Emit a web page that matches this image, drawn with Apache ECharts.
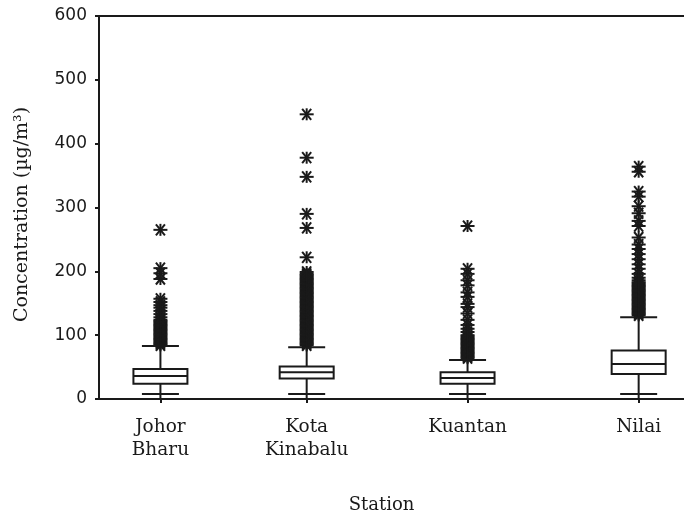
<!DOCTYPE html>
<html>
<head>
<meta charset="utf-8">
<title>Concentration by station</title>
<script src="https://cdn.jsdelivr.net/npm/echarts@6/dist/echarts.min.js"></script>
<style>
  html, body { margin: 0; padding: 0; background: #fff; }
  #chart { width: 684px; height: 519px; }
</style>
</head>
<body>
<div id="chart"></div>
<script>
// Stations and where each one sits along the x axis
const stations = ['Johor\nBharu', 'Kota\nKinabalu', 'Kuantan', 'Nilai'];
const stationPos = [0.42, 1.42, 2.52, 3.69];

// Box statistics (µg/m³)
const lowerWhisker = [8, 8, 8, 8];
const quartile1    = [24, 32, 24, 39];
const median       = [36, 42, 33, 55];
const quartile3    = [47, 51, 42, 76];
const upperWhisker = [83, 81, 61, 128];

// Outlying observations per station
const outJohor = [84, 86, 88, 90, 92, 94, 96, 98, 100, 102, 104, 106, 108, 110, 112, 114,
  116, 118, 120, 122, 124, 128, 133, 138, 143, 147, 152, 157, 188, 197, 205, 265];
const outKota = [84, 86, 88, 90, 92, 94, 96, 98, 100, 102, 104, 106, 108, 110, 112, 114,
  116, 118, 120, 122, 124, 126, 128, 130, 132, 134, 136, 138, 140, 142, 144, 146, 148,
  150, 152, 154, 156, 158, 160, 162, 164, 166, 168, 170, 172, 174, 176, 178, 180, 182,
  184, 186, 188, 190, 192, 194, 196, 199, 222, 268, 290, 348, 378, 446];
const outKuantan = [64, 66, 68, 70, 72, 74, 76, 78, 80, 82, 84, 86, 88, 90, 92, 94, 96,
  98, 100, 105, 110, 116, 124, 134, 144, 149, 160, 167, 178, 186, 196, 204, 271];
const outNilai = [131, 133, 135, 137, 139, 141, 143, 145, 147, 149, 151, 153, 155, 157,
  159, 161, 163, 165, 167, 169, 171, 173, 175, 177, 179, 181, 183, 186, 190, 196, 204,
  211, 219, 227, 235, 242, 253, 271, 279, 291, 302, 317, 325, 356, 364];
const outliers = [outJohor, outKota, outKuantan, outNilai];

// Axis ticks
const yTicks = { min: 0, max: 600, interval: 100 };

const INK = '#1a1a1a';
const BOX_W = 54;
const CAP_W = 37;
const SERIF = '"DejaVu Serif", serif';

const boxData = stations.map((s, i) => [stationPos[i], lowerWhisker[i], quartile1[i],
  median[i], quartile3[i], upperWhisker[i]]);
const outlierData = [];
outliers.forEach((vals, i) => vals.forEach(v => outlierData.push([stationPos[i], v])));

function renderBox(params, api) {
  const x = api.value(0);
  const pt = k => api.coord([x, api.value(k)]);
  const lo = pt(1), q1 = pt(2), md = pt(3), q3 = pt(4), hi = pt(5);
  const base = api.coord([x, yTicks.min]);
  const cx = lo[0];
  const hw = BOX_W / 2, cw = CAP_W / 2;
  const st = { stroke: INK, lineWidth: 2, fill: null };
  return {
    type: 'group',
    children: [
      { type: 'line', shape: { x1: cx, y1: q3[1], x2: cx, y2: hi[1] }, style: st },
      { type: 'line', shape: { x1: cx - cw, y1: hi[1], x2: cx + cw, y2: hi[1] }, style: st },
      { type: 'line', shape: { x1: cx, y1: q1[1], x2: cx, y2: base[1] }, style: st },
      { type: 'line', shape: { x1: cx - cw, y1: lo[1], x2: cx + cw, y2: lo[1] }, style: st },
      { type: 'rect', shape: { x: cx - hw, y: q3[1], width: BOX_W, height: q1[1] - q3[1] },
        style: { stroke: INK, lineWidth: 2, fill: '#fff' } },
      { type: 'line', shape: { x1: cx - hw, y1: md[1], x2: cx + hw, y2: md[1] }, style: st }
    ]
  };
}

// Asterisk marker for an outlier
function renderStar(params, api) {
  const p = api.coord([api.value(0), api.value(1)]);
  const st = { stroke: INK, lineWidth: 2, fill: null };
  const x = p[0], y = p[1];
  return {
    type: 'group',
    children: [
      { type: 'line', shape: { x1: x - 7, y1: y, x2: x + 7, y2: y }, style: st },
      { type: 'line', shape: { x1: x - 4.5, y1: y - 5.5, x2: x + 4.5, y2: y + 5.5 }, style: st },
      { type: 'line', shape: { x1: x - 4.5, y1: y + 5.5, x2: x + 4.5, y2: y - 5.5 }, style: st },
      { type: 'line', shape: { x1: x, y1: y - 6, x2: x, y2: y + 6 }, style: st }
    ]
  };
}

const chart = echarts.init(document.getElementById('chart'), null, { renderer: 'canvas' });
chart.setOption({
  animation: false,
  backgroundColor: '#fff',
  grid: { left: 99, right: 0, top: 16, bottom: 116, containLabel: false },
  xAxis: [{
    type: 'value',
    min: 0,
    max: 4,
    name: 'Station',
    nameLocation: 'middle',
    nameGap: 97,
    nameTextStyle: { fontFamily: SERIF, fontSize: 18, color: INK, padding: [0, 20, 0, 0] },
    axisLine: { show: true, lineStyle: { color: INK, width: 2 } },
    axisTick: { show: true, length: 4, customValues: stationPos, lineStyle: { color: INK, width: 2 } },
    axisLabel: {
      customValues: stationPos,
      formatter: v => stations[stationPos.indexOf(v)] || '',
      fontFamily: SERIF, fontSize: 18.5, color: INK, lineHeight: 23, margin: 17
    },
    splitLine: { show: false }
  }, {
    type: 'value',
    position: 'top',
    min: 0,
    max: 4,
    axisLine: { show: true, lineStyle: { color: INK, width: 2 } },
    axisTick: { show: false },
    axisLabel: { show: false },
    splitLine: { show: false }
  }],
  yAxis: {
    type: 'value',
    min: yTicks.min,
    max: yTicks.max,
    interval: yTicks.interval,
    name: 'Concentration (µg/m³)',
    nameLocation: 'middle',
    nameGap: 67,
    nameTextStyle: { fontFamily: SERIF, fontSize: 19, color: INK, padding: [0, 14, 0, 0] },
    axisLine: { show: true, lineStyle: { color: INK, width: 2 } },
    axisTick: { show: true, length: 4, lineStyle: { color: INK, width: 2 } },
    axisLabel: { fontFamily: '"DejaVu Sans", sans-serif', fontSize: 17, color: INK, margin: 12 },
    splitLine: { show: false }
  },
  series: [{
    type: 'custom',
    name: 'box',
    renderItem: renderBox,
    encode: { x: 0, y: [1, 2, 3, 4, 5] },
    data: boxData,
    z: 3
  }, {
    type: 'custom',
    name: 'outliers',
    renderItem: renderStar,
    encode: { x: 0, y: 1 },
    data: outlierData,
    z: 2
  }]
});
</script>
</body>
</html>
